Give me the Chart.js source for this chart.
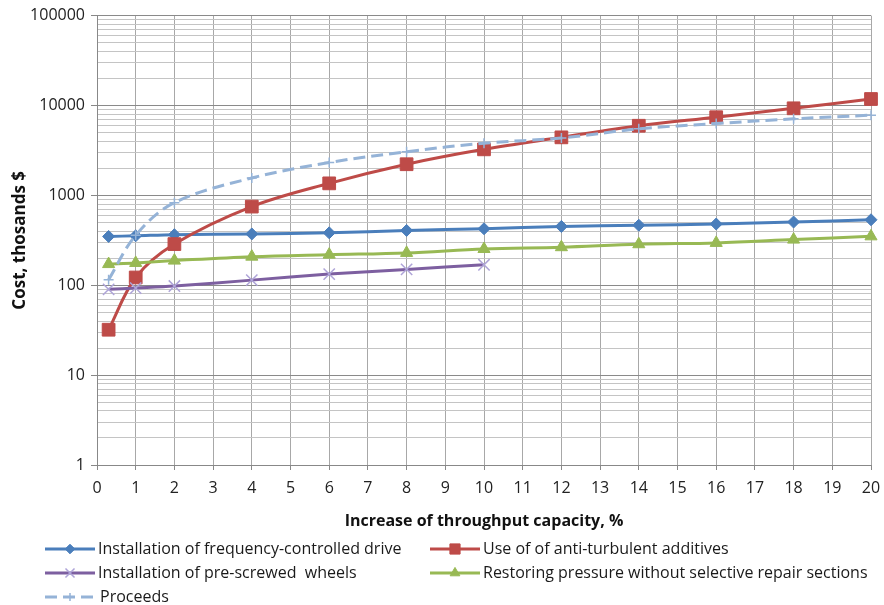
<!DOCTYPE html>
<html>
<head>
<meta charset="utf-8">
<script src="https://cdn.jsdelivr.net/npm/chart.js@4"></script>
<style>
  html, body { margin: 0; padding: 0; background: #fff; }
  #wrap { width: 884px; height: 605px; }
</style>
</head>
<body>
<div id="wrap"><canvas id="chart" width="884" height="605"></canvas></div>
<script>
// x values, % increase of throughput capacity
const throughput = [0.3, 1, 2, 4, 6, 8, 10, 12, 14, 16, 18, 20];

// cost, thousands $
const freqDrive = [349, 355, 365, 372, 383, 407, 425, 451, 465, 480, 505, 535];
const antiTurbulent = [32, 122, 287, 750, 1360, 2220, 3250, 4420, 5950, 7400, 9300, 11800];
const preScrewed = [90, 93, 98, 114, 133, 150, 169];
const restoringPressure = [172, 177, 188, 208, 219, 229, 253, 265, 286, 296, 322, 350];
const proceeds = [115, 360, 830, 1560, 2320, 3060, 3800, 4350, 5500, 6300, 7100, 7800];

const seriesNames = [
  "Installation of frequency-controlled drive",
  "Use of of anti-turbulent additives",
  "Installation of pre-screwed  wheels",
  "Restoring pressure without selective repair sections",
  "Proceeds",
];

const yMajorTicks = [1, 10, 100, 1000, 10000, 100000];
const yMinorSteps = [2, 3, 4, 5, 6, 7, 8, 9];

const FONT = "'Open Sans', 'DejaVu Sans', sans-serif";

function toPoints(values) {
  return values.map((v, i) => ({ x: throughput[i], y: v }));
}

function isMajor(v) {
  return yMajorTicks.includes(v);
}

function drawMarker(ctx, style, r, x, y) {
  Chart.helpers.drawPoint(ctx, { pointStyle: style, radius: r, borderWidth: ctx.lineWidth }, x, y);
}

// legend laid out like the Excel one: two columns, three rows
const excelLegend = {
  id: "excelLegend",
  afterDraw(chart) {
    const ctx = chart.ctx;
    const rows = [549, 573, 597];
    const cols = [45, 430];
    ctx.save();
    chart.data.datasets.forEach((ds, i) => {
      const x0 = cols[i % 2];
      const y = rows[Math.floor(i / 2)];
      ctx.beginPath();
      ctx.setLineDash(ds.borderDash || []);
      ctx.strokeStyle = ds.borderColor;
      ctx.lineWidth = ds.borderWidth;
      ctx.moveTo(x0, y);
      ctx.lineTo(x0 + 50, y);
      ctx.stroke();
      ctx.setLineDash([]);
      ctx.fillStyle = ds.pointBackgroundColor;
      ctx.strokeStyle = ds.pointBorderColor;
      ctx.lineWidth = ds.pointBorderWidth;
      drawMarker(ctx, ds.pointStyle, ds.legendRadius, x0 + 25, y);
      ctx.fillStyle = "#1a1a1a";
      ctx.font = "16px " + FONT;
      ctx.textBaseline = "middle";
      ctx.textAlign = "left";
      ctx.fillText(ds.label, x0 + (i === 4 ? 55 : 53), y);
    });
    ctx.restore();
  },
};

function makeDataset(label, values, color, style, radius, extra) {
  return Object.assign({
    label: label,
    data: toPoints(values),
    borderColor: color,
    backgroundColor: color,
    pointBackgroundColor: color,
    pointBorderColor: color,
    pointStyle: style,
    pointRadius: radius,
    pointHoverRadius: radius,
    pointBorderWidth: 1,
    legendRadius: radius * 0.8,
    borderWidth: 3,
    tension: 0.35,
    clip: false,
  }, extra || {});
}

const datasets = [
  makeDataset(seriesNames[0], freqDrive, "#4a7ebb", "rectRot", 6, { order: 5 }),
  makeDataset(seriesNames[1], antiTurbulent, "#be4b48", "rect", 9, { order: 4 }),
  makeDataset(seriesNames[2], preScrewed, "#7d5fa0", "crossRot", 8, {
    order: 3, pointBorderColor: "#aea4d8", pointBorderWidth: 1.5,
  }),
  makeDataset(seriesNames[3], restoringPressure, "#98b954", "triangle", 7, { order: 2 }),
  makeDataset(seriesNames[4], proceeds, "#95b3d7", "cross", 5, {
    order: 1, borderDash: [12, 6], pointBorderWidth: 1.5,
  }),
];

new Chart(document.getElementById("chart"), {
  type: "line",
  data: { datasets: datasets },
  plugins: [excelLegend],
  options: {
    responsive: false,
    animation: false,
    layout: { padding: { left: 0, right: 13, top: 14, bottom: 70 } },
    plugins: {
      legend: { display: false },
      tooltip: { enabled: false },
    },
    scales: {
      x: {
        type: "linear",
        min: 0,
        max: 20,
        afterFit: (scale) => {
          scale.height = 70;
          scale.paddingLeft = 0;
          scale.paddingRight = 0;
        },
        ticks: {
          stepSize: 1,
          padding: 9,
          color: "#222",
          font: { family: FONT, size: 16 },
          maxRotation: 0,
        },
        grid: { color: "#a8a8a8", tickLength: 5, tickColor: "#888" },
        border: { color: "#888" },
        title: {
          display: true,
          text: "Increase of throughput capacity, %",
          color: "#111",
          font: { family: FONT, size: 16, weight: "bold" },
          padding: { top: 0, bottom: 4 },
        },
      },
      y: {
        type: "logarithmic",
        min: 1,
        max: 100000,
        afterFit: (scale) => { scale.width = 97; },
        afterBuildTicks: (scale) => {
          const ticks = [];
          yMajorTicks.forEach((m, i) => {
            ticks.push({ value: m });
            if (i < yMajorTicks.length - 1) {
              yMinorSteps.forEach((s) => ticks.push({ value: m * s }));
            }
          });
          scale.ticks = ticks;
        },
        ticks: {
          autoSkip: false,
          padding: 6,
          color: "#222",
          font: { family: FONT, size: 16 },
          callback: (v) => (isMajor(v) ? String(v) : ""),
        },
        grid: {
          tickLength: 6,
          color: (c) => (c.tick && isMajor(c.tick.value) ? "#8a8a8a" : "#c4c4c4"),
          tickColor: (c) => (c.tick && isMajor(c.tick.value) ? "#888" : "rgba(0,0,0,0)"),
        },
        border: { color: "#888" },
        title: {
          display: true,
          text: "Cost, thosands $",
          color: "#111",
          font: { family: FONT, size: 17, weight: "bold" },
          padding: { top: 10, bottom: 0 },
        },
      },
    },
  },
});
</script>
</body>
</html>
